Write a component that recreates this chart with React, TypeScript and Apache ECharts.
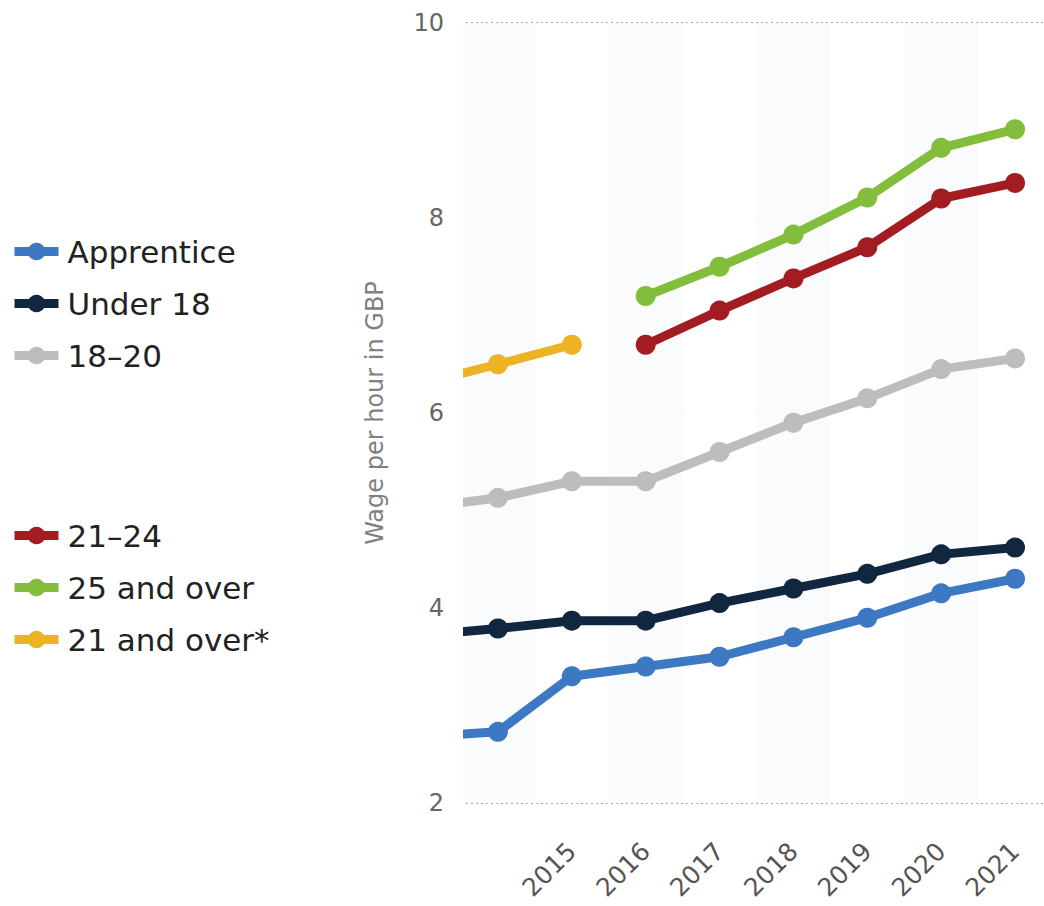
import React, { useEffect, useRef } from "react";
import * as echarts from "echarts";

const categories = ["2013", "2014", "2015", "2016", "2017", "2018", "2019", "2020", "2021"];
const seriesNames = ["Apprentice", "Under 18", "18–20", "21–24", "25 and over", "21 and over*"];
const seriesColors = ["#3d78c3", "#11273f", "#bdbdbd", "#a31c22", "#82bd3c", "#eeb324"];
const apprentice = [2.68, 2.73, 3.3, 3.4, 3.5, 3.7, 3.9, 4.15, 4.3];
const under18 = [3.72, 3.79, 3.87, 3.87, 4.05, 4.2, 4.35, 4.55, 4.62];
const age18to20 = [5.03, 5.13, 5.3, 5.3, 5.6, 5.9, 6.15, 6.45, 6.56];
const age21to24 = [null, null, null, 6.7, 7.05, 7.38, 7.7, 8.2, 8.36];
const age25plus = [null, null, null, 7.2, 7.5, 7.83, 8.21, 8.72, 8.91];
const age21plus = [6.31, 6.5, 6.7, null, null, null, null, null, null];
const yMin = 2;
const yMax = 10;
const yInterval = 2;
const yAxisTitle = "Wage per hour in GBP";

const FONT = "DejaVu Sans";

export default function App() {
  const ref = useRef<HTMLDivElement>(null);
  useEffect(() => {
    if (!ref.current) return;
    const chart = echarts.init(ref.current, null, { renderer: "svg" });
    const allData = [apprentice, under18, age18to20, age21to24, age25plus, age21plus];
    const legendCommon = {
      orient: "vertical" as const,
      left: 10,
      padding: 0,
      itemWidth: 44,
      itemHeight: 22,
      itemGap: 21,
      lineStyle: { width: 9 },
      textStyle: {
        fontFamily: FONT,
        fontSize: 31,
        lineHeight: 31,
        color: "#222222",
        padding: [0, 0, 0, 4],
      },
    };
    chart.setOption({
      animation: false,
      backgroundColor: "#ffffff",
      legend: [
        { ...legendCommon, top: 236, data: seriesNames.slice(0, 3) },
        { ...legendCommon, top: 520, data: seriesNames.slice(3) },
      ],
      grid: { left: 461, right: 18, top: 23, bottom: 103, containLabel: false },
      graphic: [
        {
          type: "rect",
          z: 100,
          silent: true,
          shape: { x: 448, y: 0, width: 15, height: 810 },
          style: { fill: "#ffffff" },
        },
      ],
      xAxis: {
        type: "category",
        data: categories,
        min: 1,
        max: 8,
        boundaryGap: true,
        axisLine: { show: false },
        axisTick: { show: false },
        axisLabel: {
          rotate: 45,
          margin: 44,
          fontFamily: FONT,
          fontSize: 25,
          color: "#555555",
          interval: (index: number) => index >= 2,
        },
        splitArea: { show: true, areaStyle: { color: ["#fafbfd", "#ffffff"] } },
      },
      yAxis: {
        type: "value",
        min: yMin,
        max: yMax,
        interval: yInterval,
        name: yAxisTitle,
        nameLocation: "middle",
        nameGap: 74,
        nameTextStyle: { fontFamily: FONT, fontSize: 24, color: "#808080" },
        axisLine: { show: false },
        axisTick: { show: false },
        axisLabel: { margin: 17, fontFamily: FONT, fontSize: 24, color: "#666666" },
        splitLine: { lineStyle: { color: "#aaaaaa", width: 2, type: [2, 3] } },
      },
      series: seriesNames.map((name, i) => ({
        name,
        type: "line",
        data: allData[i],
        symbol: "circle",
        symbolSize: 20,
        showAllSymbol: true,
        connectNulls: false,
        clip: true,
        color: seriesColors[i],
        lineStyle: { width: 9, color: seriesColors[i] },
        itemStyle: { color: seriesColors[i] },
      })),
    });
    return () => chart.dispose();
  }, []);
  return (
    <div style={{ position: "absolute", left: 0, top: 0, width: 1044, height: 906, overflow: "hidden", background: "#fff" }}>
      <div ref={ref} style={{ width: 1070, height: 906 }} />
    </div>
  );
}
